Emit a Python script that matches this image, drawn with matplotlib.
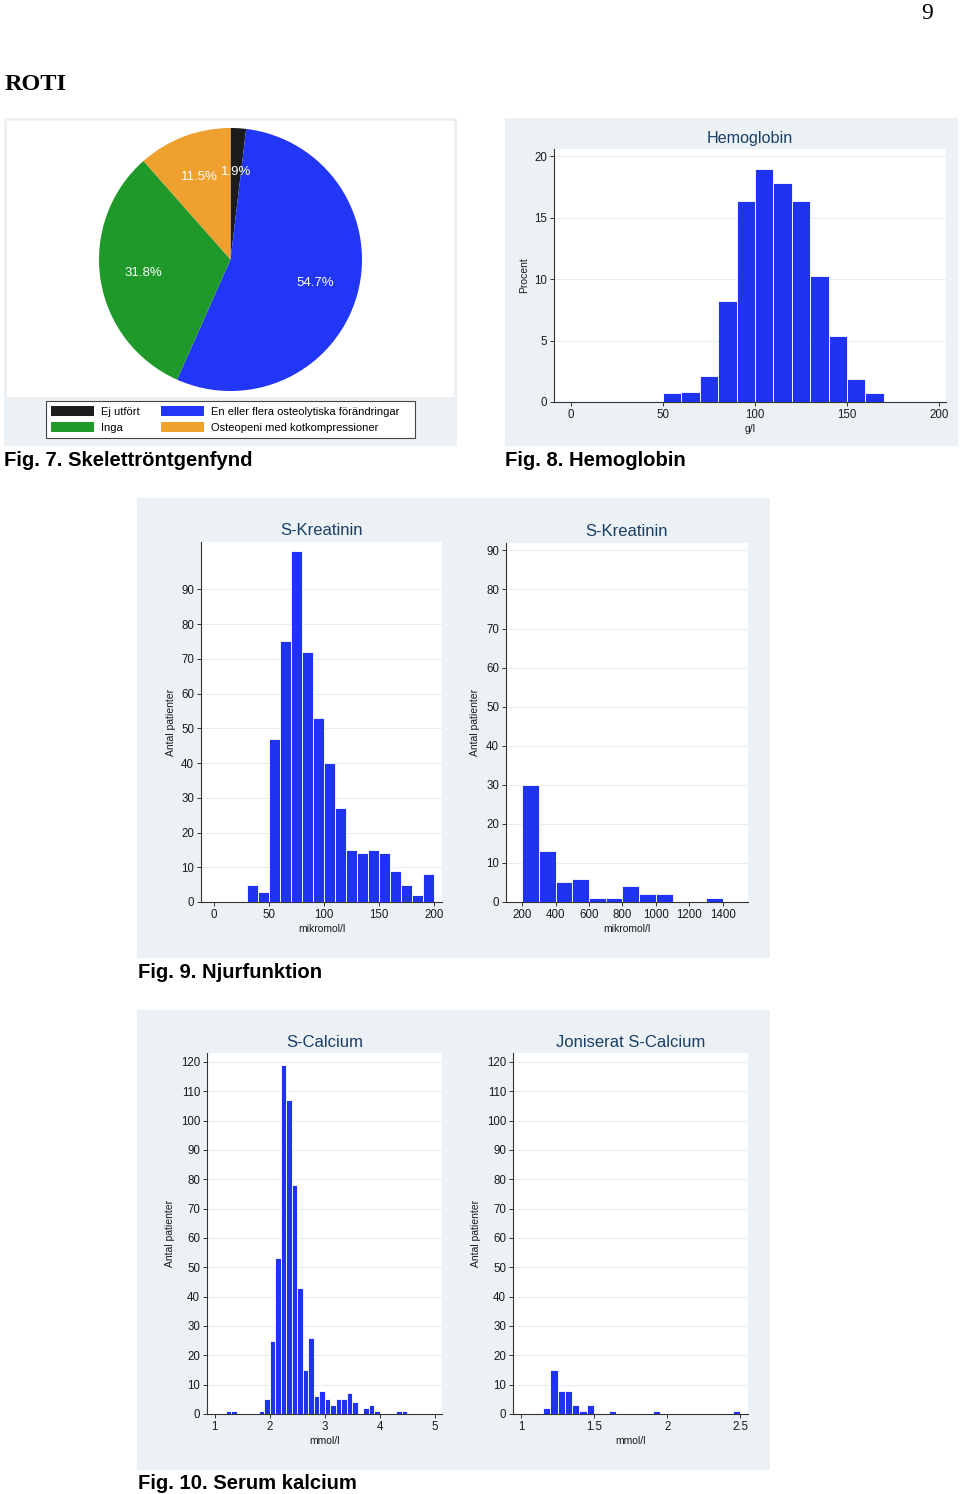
import matplotlib
matplotlib.use('Agg')
import matplotlib.pyplot as plt
from matplotlib.patches import Rectangle, Patch

# ---------------- data ----------------
pie_labels = ['Ej utfört', 'En eller flera osteolytiska förändringar', 'Inga',
              'Osteopeni med kotkompressioner']
pie_values = [1.9, 54.7, 31.8, 11.5]

hb_starts = [50, 60, 70, 80, 90, 100, 110, 120, 130, 140, 150, 160]
hb_pct = [0.7, 0.85, 2.1, 8.2, 16.4, 19.0, 17.8, 16.4, 10.3, 5.4, 1.9, 0.7]
hb_width = 10

kr_lo_starts = [30, 40, 50, 60, 70, 80, 90, 100, 110, 120, 130, 140, 150, 160, 170, 180, 190]
kr_lo_counts = [5, 3, 47, 75, 101, 72, 53, 40, 27, 15, 14, 15, 14, 9, 5, 2, 8]
kr_lo_width = 10

kr_hi_starts = [200, 300, 400, 500, 600, 700, 800, 900, 1000, 1300]
kr_hi_counts = [30, 13, 5, 6, 1, 1, 4, 2, 2, 1]
kr_hi_width = 100

ca_starts = [1.2, 1.3, 1.8, 1.9, 2.0, 2.1, 2.2, 2.3, 2.4, 2.5, 2.6, 2.7, 2.8, 2.9,
             3.0, 3.1, 3.2, 3.3, 3.4, 3.5, 3.7, 3.8, 3.9, 4.3, 4.4]
ca_counts = [1, 1, 1, 5, 25, 53, 119, 107, 78, 43, 15, 26, 6, 8,
             5, 3, 5, 5, 7, 4, 2, 3, 1, 1, 1]
ca_width = 0.1

ica_starts = [1.15, 1.20, 1.25, 1.30, 1.35, 1.40, 1.45, 1.60, 1.90, 2.45]
ica_counts = [2, 15, 8, 8, 3, 1, 3, 1, 1, 1]
ica_width = 0.05

# ---------------- style ----------------
W, H = 960, 1494
PANEL = '#ebf1f4'
BLUE = '#1f33f0'
TITLE_C = '#1a3f66'
AX_C = '#333333'
GRID_C = '#e6edf0'
pie_colors = ['#1c1c1c', '#2236f5', '#1f9a2a', '#eea12e']

plt.rcParams['font.family'] = ['Liberation Sans', 'DejaVu Sans']

fig = plt.figure(figsize=(W / 100, H / 100), dpi=100)
fig.patch.set_facecolor('white')


def box(l, t, r, b):
    return [l / W, 1 - b / H, (r - l) / W, (b - t) / H]


def rect(l, t, r, b, fc, ec='none', lw=0, z=-5):
    fig.add_artist(Rectangle((l / W, 1 - b / H), (r - l) / W, (b - t) / H,
                             transform=fig.transFigure, facecolor=fc,
                             edgecolor=ec, linewidth=lw, zorder=z))


def ftext(x, y, s, **kw):
    fig.text(x / W, 1 - y / H, s, **kw)


def style_hist(ax, title, xlabel, ylabel, xlim, ylim, xticks, xticklabels, yticks, title_pad):
    ax.set_facecolor('white')
    ax.set_xlim(*xlim)
    ax.set_ylim(*ylim)
    for s in ('top', 'right'):
        ax.spines[s].set_visible(False)
    for s in ('left', 'bottom'):
        ax.spines[s].set_color(AX_C)
        ax.spines[s].set_linewidth(0.8)
    ax.set_xticks(xticks)
    ax.set_xticklabels(xticklabels)
    ax.set_yticks(yticks)
    ax.tick_params(axis='both', direction='out', length=3, width=0.7, color=AX_C,
                   labelsize=8.3, labelcolor='#1a1a1a', pad=2)
    ax.yaxis.grid(True, color=GRID_C, linewidth=0.7)
    ax.set_axisbelow(True)
    ax.set_title(title, color=TITLE_C, fontsize=12, pad=title_pad)
    ax.set_xlabel(xlabel, fontsize=7.5, color='#1a1a1a', labelpad=2)
    ax.set_ylabel(ylabel, fontsize=7.5, color='#1a1a1a', labelpad=4)


def bars(ax, starts, vals, width):
    ax.bar(starts, vals, width=width, align='edge', color=BLUE,
           edgecolor='white', linewidth=0.6, zorder=3)


# ---------------- page text ----------------
ftext(921, 19, '9', family=['Liberation Serif', 'DejaVu Serif'], fontsize=17,
      va='baseline', ha='left')
ftext(5, 90, 'ROTI', family=['Liberation Serif', 'DejaVu Serif'], fontsize=17.5,
      fontweight='bold', va='baseline', ha='left')

# ---------------- Fig 7: pie ----------------
rect(4, 118, 457, 446, PANEL)
rect(7, 121, 454, 397, 'white', z=-4)
ax_pie = fig.add_axes(box(99, 128, 362, 391))
it = iter(pie_values)
ax_pie.pie(pie_values, colors=pie_colors, startangle=90, counterclock=False,
           autopct=lambda p: f'{next(it)}%', pctdistance=0.67,
           wedgeprops=dict(linewidth=0),
           textprops=dict(color='white', fontsize=9.5))
ax_pie.set_xlim(-1, 1)
ax_pie.set_ylim(-1, 1)
ax_pie.set_aspect('equal')
ax_pie.axis('off')

# legend
rect(46, 401, 415, 438, 'white', ec='#444444', lw=0.8, z=-3)
handles = [Patch(facecolor=pie_colors[0]), Patch(facecolor=pie_colors[2]),
           Patch(facecolor=pie_colors[1]), Patch(facecolor=pie_colors[3])]
labels = [pie_labels[0], pie_labels[2], pie_labels[1], pie_labels[3]]
fig.legend(handles, labels, ncol=2, loc='upper left',
           bbox_to_anchor=(46 / W, 1 - 401 / H), frameon=False, fontsize=8,
           handlelength=3.9, handleheight=1.0, handletextpad=0.6,
           columnspacing=1.9, labelspacing=0.45, borderpad=0.45,
           borderaxespad=0)

ftext(4, 466, 'Fig. 7. Skelettröntgenfynd', fontsize=14.6, fontweight='bold',
      va='baseline')

# ---------------- Fig 8: hemoglobin ----------------
rect(505, 118, 958, 446, PANEL)
ax_hb = fig.add_axes(box(554, 149, 946, 402))
bars(ax_hb, hb_starts, hb_pct, hb_width)
style_hist(ax_hb, 'Hemoglobin', 'g/l', 'Procent', (-9.2, 203.8), (0, 20.6),
           [0, 50, 100, 150, 200], ['0', '50', '100', '150', '200'],
           [0, 5, 10, 15, 20], 4)
ax_hb.title.set_fontsize(11.6)
ftext(505, 466, 'Fig. 8. Hemoglobin', fontsize=14.6, fontweight='bold',
      va='baseline')

# ---------------- Fig 9: kreatinin ----------------
rect(137, 498, 770, 958, PANEL)
ax_k1 = fig.add_axes(box(201, 542, 442, 902))
bars(ax_k1, kr_lo_starts, kr_lo_counts, kr_lo_width)
style_hist(ax_k1, 'S-Kreatinin', 'mikromol/l', 'Antal patienter', (-11.4, 207),
           (0, 103.6), [0, 50, 100, 150, 200], ['0', '50', '100', '150', '200'],
           list(range(0, 91, 10)), 5)

ax_k2 = fig.add_axes(box(506, 543, 748, 902))
bars(ax_k2, kr_hi_starts, kr_hi_counts, kr_hi_width)
style_hist(ax_k2, 'S-Kreatinin', 'mikromol/l', 'Antal patienter', (104, 1550),
           (0, 91.9), [200, 400, 600, 800, 1000, 1200, 1400],
           ['200', '400', '600', '800', '1000', '1200', '1400'],
           list(range(0, 91, 10)), 5)
ftext(138, 978, 'Fig. 9. Njurfunktion', fontsize=14.6, fontweight='bold',
      va='baseline')

# ---------------- Fig 10: calcium ----------------
rect(137, 1010, 770, 1470, PANEL)
ax_c1 = fig.add_axes(box(207, 1053, 442, 1414))
bars(ax_c1, ca_starts, ca_counts, ca_width)
style_hist(ax_c1, 'S-Calcium', 'mmol/l', 'Antal patienter', (0.862, 5.13),
           (0, 123), [1, 2, 3, 4, 5], ['1', '2', '3', '4', '5'],
           list(range(0, 121, 10)), 4)

ax_c2 = fig.add_axes(box(513, 1053, 748, 1414))
bars(ax_c2, ica_starts, ica_counts, ica_width)
style_hist(ax_c2, 'Joniserat S-Calcium', 'mmol/l', 'Antal patienter',
           (0.945, 2.553), (0, 123), [1, 1.5, 2, 2.5], ['1', '1.5', '2', '2.5'],
           list(range(0, 121, 10)), 4)
ftext(138, 1489, 'Fig. 10. Serum kalcium', fontsize=14.6, fontweight='bold',
      va='baseline')

fig.savefig('out.png', dpi=100)
